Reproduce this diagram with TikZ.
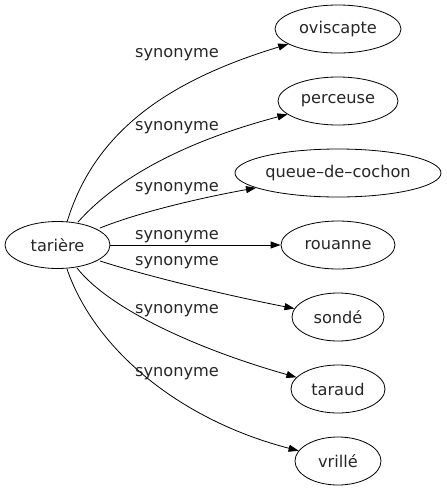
\documentclass[tikz,border=0pt]{standalone}
\usepackage{fontspec}
\setmainfont{DejaVu Sans}
\usetikzlibrary{arrows.meta,shapes.geometric}
\begin{document}
\begin{tikzpicture}[x=1pt,y=-1pt,
  every node/.style={font=\fontsize{16.2}{19}\selectfont,text=black!85},
  word/.style={draw,ellipse,inner sep=0pt,line width=0.8pt},
  lbl/.style={inner sep=0pt},
  edge/.style={line width=0.8pt,-{Triangle[length=10pt,width=7pt]}}]
\useasboundingbox (0,0) rectangle (447,491);
\node[word,minimum width=105pt,minimum height=47pt] (t) at (57.5,245) {tarière};
\node[word,minimum width=126pt,minimum height=48pt] (a) at (338,29) {oviscapte};
\node[word,minimum width=120pt,minimum height=48pt] (b) at (338,101) {perceuse};
\node[word,minimum width=206pt,minimum height=48pt] (c) at (338,173) {queue–de–cochon};
\node[word,minimum width=114pt,minimum height=48pt] (d) at (338,245) {rouanne};
\node[word,minimum width=92pt,minimum height=48pt] (e) at (338,317) {sondé};
\node[word,minimum width=94pt,minimum height=48pt] (f) at (338,389) {taraud};
\node[word,minimum width=86pt,minimum height=48pt] (g) at (338,461) {vrillé};
\coordinate (t1) at (67,222);
\coordinate (t2) at (78,222);
\coordinate (t3) at (100,228);
\coordinate (t5) at (100,261);
\coordinate (t6) at (77,268);
\coordinate (t7) at (67,269);
\draw[edge] (t1) .. controls (95,130) and (170,80) .. (a);
\draw[edge] (t2) .. controls (120,175) and (190,140) .. (b);
\draw[edge] (t3) .. controls (140,212) and (200,198) .. (c);
\draw[edge] (t) -- (d);
\draw[edge] (t5) .. controls (150,277) and (230,296) .. (e);
\draw[edge] (t6) .. controls (110,310) and (200,350) .. (f);
\draw[edge] (t7) .. controls (95,350) and (180,420) .. (g);
\node[lbl] (l1) at (177,54.5) {synonyme};
\node[lbl] (l2) at (177,128) {synonyme};
\node[lbl] (l3) at (177,189) {synonyme};
\node[lbl] (l4) at (177,236.5) {synonyme};
\node[lbl] (l5) at (177,262.5) {synonyme};
\node[lbl] (l6) at (177,311) {synonyme};
\node[lbl] (l7) at (177,374) {synonyme};
\end{tikzpicture}
\end{document}
